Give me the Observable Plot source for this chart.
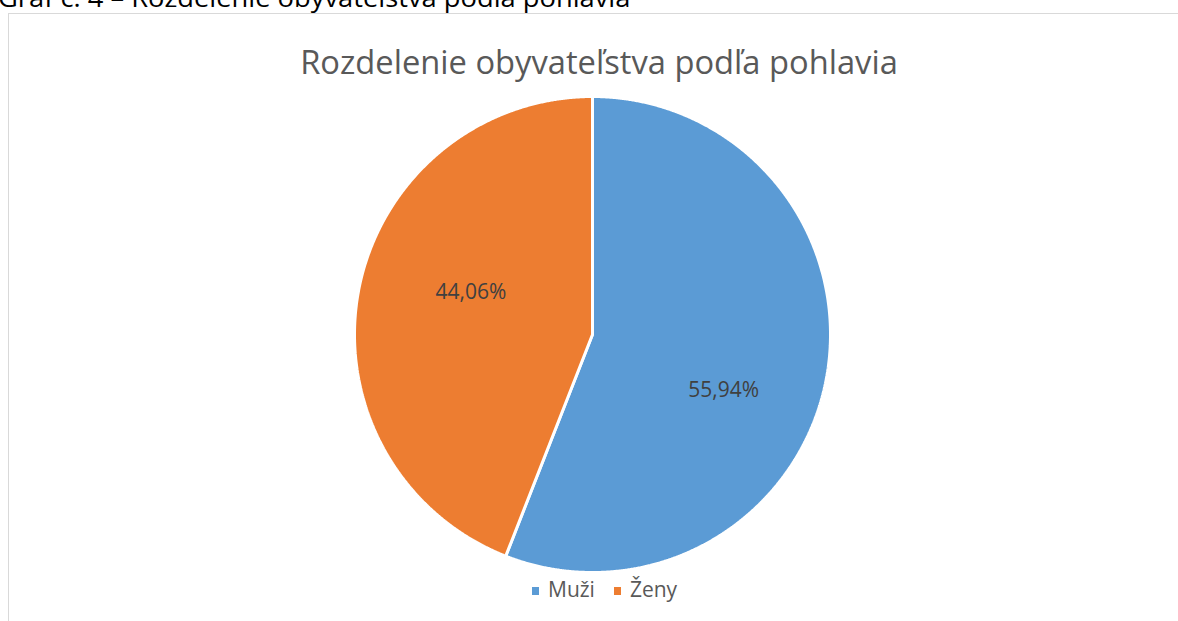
<!DOCTYPE html>
<html>
<head>
<meta charset="utf-8">
<script src="https://cdn.jsdelivr.net/npm/d3@7"></script>
<script src="https://cdn.jsdelivr.net/npm/@observablehq/plot@0.6"></script>
<style>
  html, body { margin: 0; padding: 0; background: #fff; }
  body { width: 1178px; height: 621px; position: relative; overflow: hidden; font-family: "Open Sans", sans-serif; }
  #caption { position: absolute; left: -2px; top: -16px; font-size: 26px; line-height: 26px; color: #000; white-space: nowrap; transform-origin: 0 0; transform: scaleX(1.05); }
  #frame { position: absolute; left: 8px; top: 13px; width: 1200px; height: 700px; border: 1px solid #d9d9d9; box-sizing: border-box; }
  #title { position: absolute; left: 0; width: 1198px; top: 39px; text-align: center; font-size: 32.7px; color: #595959; white-space: nowrap; }
  #chart { position: absolute; left: 342px; top: 84px; }
  #legend { position: absolute; top: 575px; left: 532px; font-size: 21px; color: #595959; white-space: nowrap; }
  #legend .item { display: inline-block; margin-right: 19px; }
  #legend .sw { display: inline-block; width: 7px; height: 8px; margin-right: 9px; vertical-align: 2px; }
</style>
</head>
<body>
<div id="caption">Graf č. 4 – Rozdelenie obyvateľstva podľa pohlavia</div>
<div id="frame"></div>
<div id="title">Rozdelenie obyvateľstva podľa pohlavia</div>
<div id="chart"></div>
<div id="legend"></div>
<script>
const categories = ["Muži", "Ženy"];
const values = [55.94, 44.06];
const labels = ["55,94%", "44,06%"];
const colors = ["#5B9BD5", "#ED7D31"];

const pie = d3.pie().sort(null).value(d => d.value);
const arcs = pie(categories.map((c, i) => ({cat: c, value: values[i], label: labels[i]})));

const pts = [];
for (const a of arcs) {
  pts.push({cat: a.data.cat, x: 0, y: 0});
  const n = Math.max(2, Math.ceil((a.endAngle - a.startAngle) / (Math.PI / 720)));
  for (let k = 0; k <= n; k++) {
    const t = a.startAngle + (a.endAngle - a.startAngle) * k / n;
    pts.push({cat: a.data.cat, x: Math.sin(t), y: Math.cos(t)});
  }
}

// label placement (Excel best-fit look): radial fraction and angular nudge in degrees
const labelPlace = {"Muži": {r: 0.6, shift: 12.5}, "Ženy": {r: 0.54, shift: 8.3}};
const labelData = arcs.map(a => {
  const p = labelPlace[a.data.cat];
  const t = (a.startAngle + a.endAngle) / 2 + p.shift * Math.PI / 180;
  return {x: p.r * Math.sin(t), y: p.r * Math.cos(t), label: a.data.label};
});

const chart = Plot.plot({
  width: 500,
  height: 500,
  margin: 12,
  x: {domain: [-1, 1], axis: null},
  y: {domain: [-1, 1], axis: null},
  color: {domain: categories, range: colors},
  marks: [
    Plot.line(pts, {x: "x", y: "y", z: "cat", fill: "cat", stroke: "white", strokeWidth: 3, curve: "linear-closed", strokeLinejoin: "miter"}),
    Plot.text(labelData, {x: "x", y: "y", text: "label", fill: "#404040", fontSize: 21, fontFamily: "Open Sans, sans-serif"})
  ]
});
document.getElementById("chart").appendChild(chart);

const leg = document.getElementById("legend");
categories.forEach((c, i) => {
  const it = document.createElement("span");
  it.className = "item";
  it.innerHTML = `<span class="sw" style="background:${colors[i]}"></span>${c}`;
  leg.appendChild(it);
});
</script>
</body>
</html>
